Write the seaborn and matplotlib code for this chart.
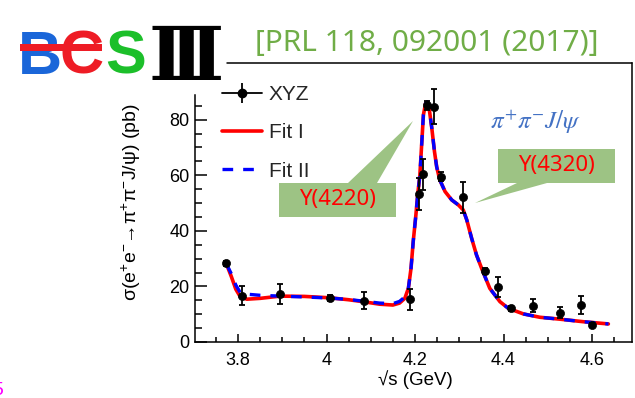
import numpy as np
import pandas as pd
import matplotlib
matplotlib.use('Agg')
import matplotlib.pyplot as plt
import seaborn as sns
from matplotlib.lines import Line2D
from matplotlib.patches import Polygon, Rectangle
from matplotlib.ticker import FixedLocator
import matplotlib.transforms as mtransforms

# ---------------- data ----------------
xyz_x = [3.773, 3.808, 3.896, 4.008, 4.085, 4.189, 4.208, 4.217, 4.226, 4.242,
         4.258, 4.308, 4.358, 4.387, 4.416, 4.467, 4.527, 4.575, 4.600]
xyz_y = [28.3, 16.7, 17.2, 15.9, 14.9, 15.3, 53.2, 60.3, 85.1, 84.7,
         59.5, 52.0, 25.5, 19.8, 12.1, 13.1, 10.6, 13.4, 6.1]
xyz_err = [1.0, 3.3, 3.6, 1.0, 3.2, 3.9, 5.7, 5.5, 1.5, 6.4,
           1.5, 5.7, 1.2, 3.5, 0.8, 2.4, 2.0, 3.3, 0.6]

fit_x = [3.774, 3.785, 3.795, 3.805, 3.820, 3.850, 3.895, 3.950, 4.008, 4.050,
         4.083, 4.120, 4.150, 4.165, 4.177, 4.185, 4.191, 4.196, 4.202, 4.206,
         4.211, 4.215, 4.219, 4.224, 4.228, 4.232, 4.238, 4.244, 4.249, 4.256,
         4.268, 4.283, 4.298, 4.309, 4.317, 4.328, 4.339, 4.352, 4.369, 4.392,
         4.411, 4.445, 4.482, 4.528, 4.580, 4.637]
fit1_y = [28.0, 23.5, 19.0, 16.3, 15.4, 15.7, 16.5, 16.4, 15.9, 15.2,
          14.5, 13.6, 13.3, 14.0, 15.7, 19.3, 26.5, 36.2, 45.7, 52.9,
          60.0, 70.9, 81.7, 85.9, 86.4, 84.0, 76.9, 68.5, 63.0, 58.3,
          54.1, 51.1, 49.3, 47.5, 43.9, 37.3, 31.3, 25.9, 19.3, 14.5,
          12.1, 10.1, 8.9, 8.2, 7.3, 6.5]
fit2_y = [28.0, 24.5, 20.5, 17.8, 17.2, 16.8, 16.5, 16.2, 15.8, 15.3,
          14.7, 14.0, 13.8, 14.6, 16.2, 19.3, 26.5, 36.2, 45.7, 52.9,
          60.0, 70.9, 81.7, 85.9, 86.4, 84.0, 76.9, 68.5, 63.0, 58.3,
          54.1, 51.1, 49.3, 47.5, 43.9, 37.3, 31.3, 25.9, 19.3, 14.5,
          12.1, 10.1, 8.9, 8.2, 7.3, 6.5]

x_major = [3.8, 4.0, 4.2, 4.4, 4.6]
x_major_labels = ['3.8', '4', '4.2', '4.4', '4.6']
y_major = [0, 20, 40, 60, 80]
y_major_labels = ['0', '20', '40', '60', '80']
legend_labels = ['XYZ', 'Fit I', 'Fit II']

# ---------------- style ----------------
sns.set_theme(style='ticks')
plt.rcParams['font.family'] = ['Liberation Sans', 'DejaVu Sans']
plt.rcParams['mathtext.fontset'] = 'custom'
plt.rcParams['mathtext.rm'] = 'Liberation Sans'
plt.rcParams['mathtext.it'] = 'Liberation Sans:italic'
plt.rcParams['mathtext.bf'] = 'Liberation Sans:bold'

W, H = 635, 398
fig = plt.figure(figsize=(W / 100, H / 100), dpi=100)
fig.patch.set_facecolor('white')
px = mtransforms.Affine2D().scale(1 / W, -1 / H).translate(0, 1) + fig.transFigure

ax = fig.add_axes([195 / W, 1 - 342 / H, (632 - 195) / W, (342 - 63) / H])
ax.set_facecolor('white')

fit_df = pd.DataFrame({'x': fit_x, 'fit1': fit1_y, 'fit2': fit2_y})
sns.lineplot(data=fit_df, x='x', y='fit1', color='#ff0000', lw=2.6,
             sort=False, estimator=None, legend=False, ax=ax, zorder=2)
sns.lineplot(data=fit_df, x='x', y='fit2', color='#0000ff', lw=2.4,
             sort=False, estimator=None, legend=False, ax=ax, zorder=3)
ax.lines[-1].set_dashes([3.2, 3.0])

ax.errorbar(xyz_x, xyz_y, yerr=xyz_err, fmt='none', ecolor='black',
            elinewidth=1.3, capsize=2.0, capthick=1.3, zorder=4)
sns.scatterplot(x=xyz_x, y=xyz_y, color='black', s=34, edgecolor='black',
                linewidth=0.5, zorder=5, ax=ax, legend=False)

ax.set_xlim(3.7028, 4.6904)
ax.set_ylim(0, 100.36)

ax.set_xticks(x_major)
ax.set_xticklabels(x_major_labels)
ax.xaxis.set_minor_locator(FixedLocator([3.75 + 0.05 * i for i in range(19)]))
ax.set_yticks(y_major)
ax.set_yticklabels(y_major_labels)
ax.yaxis.set_minor_locator(FixedLocator([5 * i for i in range(1, 18) if i % 4 != 0]))

ax.tick_params(axis='both', which='both', direction='in', top=False, right=False,
               colors='black', labelsize=13, width=1.1)
ax.tick_params(axis='y', which='major', length=8.5, pad=4)
ax.tick_params(axis='y', which='minor', length=5)
ax.tick_params(axis='x', which='major', length=5.5, pad=7)
ax.tick_params(axis='x', which='minor', length=3.5)

for s in ['left', 'right', 'bottom']:
    ax.spines[s].set_color('black')
    ax.spines[s].set_linewidth(1.1)
ax.spines['top'].set_visible(False)
ax.spines['left'].set_bounds(0, 89)

fig.add_artist(Line2D([227, 632], [63, 63], color='black', lw=1.1, transform=px))

ax.set_xlabel('√s (GeV)', fontsize=13.5, color='black')
ax.xaxis.set_label_coords(0.505, -0.1)
ax.set_ylabel(r'σ(e$^{+}$e$^{-}$→π$^{+}$π$^{-}$J/ψ) (pb)', fontsize=14, color='black')
ax.yaxis.set_label_coords(-0.118, 0.5)

# legend
xyz_h = (Line2D([], [], color='black', lw=1.3),
         Line2D([], [], color='black', marker='o', ms=6, ls='none'),
         Line2D([], [], color='black', marker='|', ms=15, mew=1.3, ls='none'))
fit1_h = Line2D([], [], color='#ff0000', lw=2.6)
fit2_h = Line2D([], [], color='#0000ff', lw=2.4, dashes=(3.2, 3.0))
ax.legend([xyz_h, fit1_h, fit2_h], legend_labels, loc='upper left',
          bbox_to_anchor=(222 / W, 1 - 85 / H), bbox_transform=fig.transFigure,
          frameon=False, fontsize=15, handlelength=1.9, handletextpad=0.35,
          labelspacing=0.93, borderpad=0, borderaxespad=0)

# callouts
green = '#9dc384'
fig.add_artist(Polygon([(279, 183), (348, 183), (413, 121), (377, 183), (396, 183),
                        (396, 217), (279, 217)], closed=True, facecolor=green,
                       edgecolor='none', transform=px, zorder=6))
fig.add_artist(Polygon([(498, 149), (615, 149), (615, 183), (547, 183), (475, 203),
                        (517, 183), (498, 183)], closed=True, facecolor=green,
                       edgecolor='none', transform=px, zorder=6))
fig.text(337.5, 200, 'Y(4220)', transform=px, color='#ff0000', fontsize=16,
         ha='center', va='center', family=['Noto Sans', 'DejaVu Sans'], zorder=7)
fig.text(556.5, 166, 'Y(4320)', transform=px, color='#ff0000', fontsize=16,
         ha='center', va='center', family=['Noto Sans', 'DejaVu Sans'], zorder=7)
fig.text(536, 122, r'$\pi^{+}\pi^{-}J/\psi$', transform=px, color='#4472c4',
         fontsize=18, ha='center', va='center', math_fontfamily='stix', zorder=7)

# header
fig.text(427, 43, '[PRL 118, 092001 (2017)]', transform=px, color='#70ad47',
         fontsize=21.5, ha='center', va='center', family=['Noto Sans', 'DejaVu Sans'])

# BESIII logo
logo_font = ['Liberation Sans', 'DejaVu Sans']
fig.text(40, 74, 'B', transform=px, color='#1a66d9', fontsize=44, fontweight='bold',
         ha='center', va='baseline', family=logo_font)
fig.text(82, 74, 'C', transform=px, color='#ee1c25', fontsize=44, fontweight='bold',
         ha='center', va='baseline', family=logo_font)
fig.add_artist(Rectangle((20, 44), 82, 7, facecolor='#ee1c25', edgecolor='none',
                         transform=px, zorder=5))
fig.text(126, 74, 'S', transform=px, color='#1cbf2a', fontsize=44, fontweight='bold',
         ha='center', va='baseline', family=logo_font)
fig.text(186, 80, 'Ⅲ', transform=px, color='black', fontsize=54, fontweight='bold',
         ha='center', va='baseline', family=['DejaVu Serif', 'DejaVu Sans'])

# page number fragment
fig.text(-8, 382, '5', transform=px, color='#ff00ff', fontsize=14, ha='left', va='top')

fig.savefig('out.png', dpi=100)
